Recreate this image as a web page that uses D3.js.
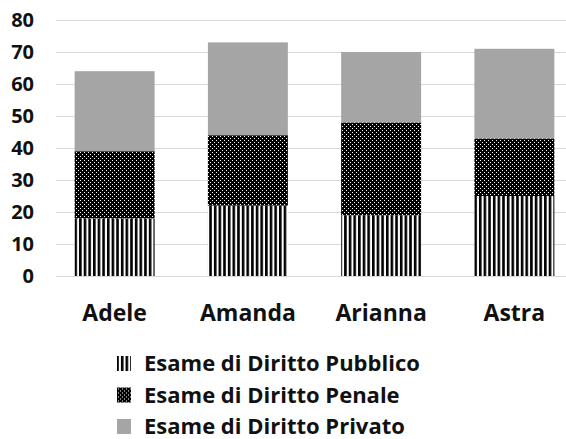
<!DOCTYPE html>
<html>
<head>
<meta charset="utf-8">
<script src="https://cdn.jsdelivr.net/npm/d3@7"></script>
<style>
  html, body { margin: 0; padding: 0; background: #ffffff; }
  svg { display: block; }
  text { font-family: "Open Sans", "Noto Sans", sans-serif; font-weight: 700; fill: #111; }
</style>
</head>
<body>
<svg id="chart" width="566" height="439"></svg>
<script>
// Exam scores per student, stacked by subject
const students = ["Adele", "Amanda", "Arianna", "Astra"];
const pubblico = [18, 22, 19, 25];
const penale   = [21, 22, 29, 18];
const privato  = [25, 29, 22, 28];
const seriesNames = ["Esame di Diritto Pubblico", "Esame di Diritto Penale", "Esame di Diritto Privato"];
const yTicks = [0, 10, 20, 30, 40, 50, 60, 70, 80];

const svg = d3.select("#chart");
const W = 566, H = 439;

// Fill patterns
const defs = svg.append("defs");
const stripes = defs.append("pattern")
  .attr("id", "pat-pubblico").attr("patternUnits", "userSpaceOnUse")
  .attr("width", 4.65).attr("height", 10);
stripes.append("rect").attr("width", 4.65).attr("height", 10).attr("fill", "#fff");
stripes.append("rect").attr("width", 2.6).attr("height", 10).attr("fill", "#000");

const dots = defs.append("pattern")
  .attr("id", "pat-penale").attr("patternUnits", "userSpaceOnUse")
  .attr("width", 4).attr("height", 4);
dots.append("rect").attr("width", 4).attr("height", 4).attr("fill", "#000");
dots.append("rect").attr("x", 0).attr("y", 0).attr("width", 1).attr("height", 1).attr("fill", "#fff");
dots.append("rect").attr("x", 2).attr("y", 2).attr("width", 1).attr("height", 1).attr("fill", "#fff");

const fills = ["url(#pat-pubblico)", "url(#pat-penale)", "#a5a5a5"];

// Scales
const y = d3.scaleLinear().domain([0, 80]).range([276, 20]);
const x = d3.scaleBand().domain(students).range([48, 581]).paddingInner(0.4).paddingOuter(0.2);

// Gridlines
svg.append("g").selectAll("line").data(yTicks).join("line")
  .attr("x1", 56).attr("x2", W)
  .attr("y1", d => Math.round(y(d)) + 0.5).attr("y2", d => Math.round(y(d)) + 0.5)
  .attr("stroke", "#d9d9d9").attr("stroke-width", 1);

// Y axis labels
const yAxis = d3.axisLeft(y).tickValues(yTicks).tickSize(0).tickPadding(0);
const yg = svg.append("g").attr("transform", "translate(34,0)").call(yAxis);
yg.select(".domain").remove();
yg.selectAll("text").attr("font-size", 20).attr("font-family", "'Open Sans', sans-serif")
  .attr("font-weight", 700).attr("fill", "#111");

// Stacked bars
const rows = students.map((s, i) => ({ student: s, pubblico: pubblico[i], penale: penale[i], privato: privato[i] }));
const stack = d3.stack().keys(["pubblico", "penale", "privato"])(rows);

svg.append("g").selectAll("g").data(stack).join("g")
  .attr("fill", (d, i) => fills[i])
  .selectAll("rect").data(d => d).join("rect")
  .attr("x", d => x(d.data.student))
  .attr("width", x.bandwidth())
  .attr("y", d => y(d[1]))
  .attr("height", d => y(d[0]) - y(d[1]));

// X axis labels (baseline set directly)
const xAxis = d3.axisBottom(x).tickSize(0).tickPadding(0);
const xg = svg.append("g").attr("transform", "translate(0,321)").call(xAxis);
xg.select(".domain").remove();
xg.selectAll("text").attr("font-size", 23).attr("font-family", "'Open Sans', sans-serif")
  .attr("font-weight", 700).attr("fill", "#111").attr("y", 0).attr("dy", 0);

// Legend
const legendY = d3.scalePoint().domain(seriesNames).range([371, 434]);
const lg = svg.append("g");
const items = lg.selectAll("g").data(seriesNames).join("g")
  .attr("transform", d => `translate(0,${legendY(d)})`);
items.append("rect")
  .attr("x", 117)
  .attr("y", -15)
  .attr("width", 14)
  .attr("height", 15)
  .attr("fill", (d, i) => fills[i]);
items.append("text")
  .attr("x", 144).attr("y", 0)
  .attr("font-size", 22)
  .text(d => d);
</script>
</body>
</html>
